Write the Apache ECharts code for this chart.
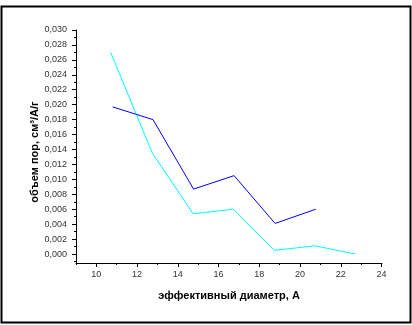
<!DOCTYPE html>
<html>
<head>
<meta charset="utf-8">
<script src="https://cdn.jsdelivr.net/npm/echarts@6/dist/echarts.min.js"></script>
<style>
  html, body { margin: 0; padding: 0; background: #fff; }
  #chart { width: 412px; height: 325px; }
</style>
</head>
<body>
<div id="chart"></div>
<script>
// Pore volume distribution vs. effective pore diameter
const diamCyan = [10.7, 12.75, 14.75, 16.73, 18.73, 20.74, 22.7];
const volCyan  = [0.0270, 0.0135, 0.0054, 0.0060, 0.0005, 0.0011, 0.0000];

const diamBlue = [10.8, 12.78, 14.77, 16.76, 18.77, 20.77];
const volBlue  = [0.0197, 0.0180, 0.0087, 0.0105, 0.0041, 0.0060];

const xTicks = [10, 12, 14, 16, 18, 20, 22, 24];
const xMinorTicks = [9, 11, 13, 15, 17, 19, 21, 23];
const yTicks = [0, 0.002, 0.004, 0.006, 0.008, 0.010, 0.012, 0.014,
                0.016, 0.018, 0.020, 0.022, 0.024, 0.026, 0.028, 0.030];
const yMinorTicks = [-0.001, 0.001, 0.003, 0.005, 0.007, 0.009, 0.011, 0.013,
                     0.015, 0.017, 0.019, 0.021, 0.023, 0.025, 0.027, 0.029];

const xTitle = 'эффективный диаметр, А';
const yTitle = 'объем пор, см³/А/г';

const X_MIN = 9, X_MAX = 24.02, Y_MIN = -0.0012, Y_MAX = 0.030;
const FONT = 'Liberation Sans, Arial, sans-serif';

const chart = echarts.init(document.getElementById('chart'), null, { renderer: 'canvas' });

const xMain = {
  type: 'value', min: X_MIN, max: X_MAX, gridIndex: 0,
  axisLine: { show: true, onZero: false, lineStyle: { color: '#000', width: 1 } },
  axisTick: { show: true, length: 4, customValues: xTicks, lineStyle: { color: '#000' } },
  axisLabel: {
    show: true, customValues: xTicks, showMinLabel: true, showMaxLabel: true,
    hideOverlap: false, fontSize: 9, color: '#333', fontFamily: FONT, margin: 7
  },
  splitLine: { show: false },
  name: xTitle,
  nameLocation: 'middle', nameGap: 27,
  nameTextStyle: { fontSize: 11, fontWeight: 'bold', color: '#000', fontFamily: FONT }
};
const xMinor = {
  type: 'value', min: X_MIN, max: X_MAX, gridIndex: 0, position: 'bottom',
  axisLine: { show: false, onZero: false },
  axisTick: { show: true, length: 2, customValues: xMinorTicks, lineStyle: { color: '#000' } },
  axisLabel: { show: false },
  splitLine: { show: false }
};
const yMain = {
  type: 'value', min: Y_MIN, max: Y_MAX, gridIndex: 0,
  axisLine: { show: true, onZero: false, lineStyle: { color: '#000', width: 1 } },
  axisTick: { show: true, length: 4, customValues: yTicks, lineStyle: { color: '#000' } },
  axisLabel: {
    show: true, customValues: yTicks, showMinLabel: true, showMaxLabel: true,
    fontSize: 9, color: '#333', fontFamily: FONT, margin: 9,
    formatter: v => v.toFixed(3).replace('.', ',')
  },
  splitLine: { show: false }
};
const yMinor = {
  type: 'value', min: Y_MIN, max: Y_MAX, gridIndex: 0, position: 'left',
  axisLine: { show: false, onZero: false },
  axisTick: { show: true, length: 2, customValues: yMinorTicks, lineStyle: { color: '#000' } },
  axisLabel: { show: false },
  splitLine: { show: false }
};

chart.setOption({
  animation: false,
  backgroundColor: '#fff',
  grid: { left: 76, top: 30, right: 30, bottom: 62, containLabel: false },
  xAxis: [xMain, xMinor],
  yAxis: [yMain, yMinor],
  graphic: [
    {
      type: 'rect', silent: true,
      shape: { x: 1.5, y: 6.5, width: 409, height: 316 },
      style: { fill: null, stroke: '#000', lineWidth: 2 }
    },
    {
      type: 'text', silent: true,
      x: 35, y: 152, rotation: Math.PI / 2,
      style: {
        text: yTitle, fontSize: 11, fontWeight: 'bold', fill: '#000', fontFamily: FONT,
        align: 'center', verticalAlign: 'middle'
      }
    }
  ],
  series: [
    {
      type: 'line', xAxisIndex: 0, yAxisIndex: 0,
      data: diamCyan.map((d, i) => [d, volCyan[i]]),
      symbol: 'none', lineStyle: { color: '#00ffff', width: 1 }
    },
    {
      type: 'line', xAxisIndex: 0, yAxisIndex: 0,
      data: diamBlue.map((d, i) => [d, volBlue[i]]),
      symbol: 'none', lineStyle: { color: '#0000ff', width: 1 }
    }
  ]
});
</script>
</body>
</html>
